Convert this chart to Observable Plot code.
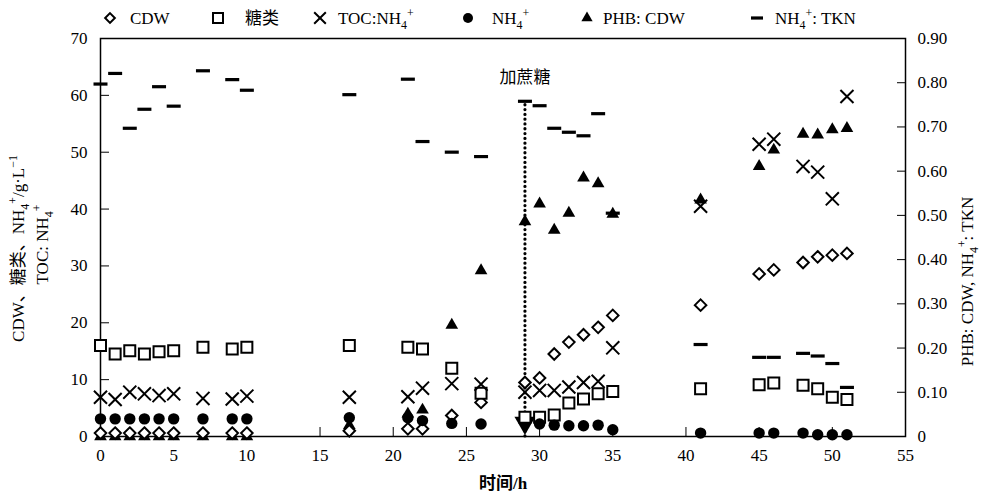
<!DOCTYPE html>
<html><head><meta charset="utf-8">
<script src="https://cdn.jsdelivr.net/npm/d3@7"></script>
<script src="https://cdn.jsdelivr.net/npm/@observablehq/plot@0.6"></script>
<style>
body{margin:0;background:#fff;}
#wrap{position:relative;width:984px;height:501px;font-family:"Liberation Serif","Times New Roman","Noto Sans CJK SC",serif;background:#fff;}
#legend{position:absolute;left:0;top:0;overflow:visible;z-index:2;}
#chart{position:absolute;left:0;top:30px;z-index:1;}
</style></head><body>
<div id="wrap"><svg id="legend" width="984" height="34"></svg><div id="chart"></div></div>
<script>
// ---- data ----
const hours = [0,1,2,3,4,5,7,9,10,17,21,22,24,26,29,30,31,32,33,34,35,41,45,46,48,49,50,51];
const cdw   = [0.6,0.6,0.6,0.6,0.6,0.6,0.6,0.6,0.6,1.0,1.35,1.35,3.7,6.0,9.5,10.3,14.5,16.6,17.9,19.2,21.3,23.1,28.6,29.3,30.6,31.6,31.9,32.2];
const sugar = [16.0,14.5,15.1,14.5,14.9,15.1,15.7,15.4,15.7,16.0,15.7,15.4,12.0,7.6,3.4,3.4,3.8,5.9,6.6,7.5,7.9,8.4,9.1,9.4,9.0,8.4,6.9,6.5];
const tocNh4 = [6.9,6.5,7.8,7.5,7.2,7.5,6.7,6.6,7.1,6.9,7.0,8.5,9.3,9.2,7.8,8.1,8.1,8.7,9.5,9.7,15.6,40.5,51.4,52.3,47.5,46.5,41.8,59.8];
const nh4   = [3.1,3.1,3.1,3.1,3.1,3.1,3.1,3.1,3.1,3.3,3.3,2.8,2.3,2.2,null,2.2,2.0,1.9,1.9,2.0,1.2,0.6,0.6,0.6,0.6,0.3,0.3,0.3];
const phbCdw = [0,0,0,0,0,0,0,0,0,0.025,0.051,0.060,0.252,0.375,0.486,0.526,0.467,0.505,0.585,0.572,0.503,0.535,0.611,0.648,0.684,0.682,0.694,0.697];
const nh4Tkn = [0.797,0.821,0.697,0.740,0.791,0.747,0.827,0.807,0.783,0.773,0.808,0.667,0.643,0.633,0.758,0.748,0.697,0.688,0.680,0.730,0.505,0.208,0.179,0.179,0.188,0.182,0.165,0.111];

const xTicks = [0,5,10,15,20,25,30,35,40,45,50,55];
const leftTicks = [0,10,20,30,40,50,60,70];
const rightTicks = [0,0.1,0.2,0.3,0.4,0.5,0.6,0.7,0.8,0.9];
const rightTickLabels = ["0","0.10","0.20","0.30","0.40","0.50","0.60","0.70","0.80","0.90"];
const leftMax = 70, rightMax = 0.9;

const seriesNames = ["CDW","糖类","TOC:NH_4^+","NH_4^+","PHB: CDW","NH_4^+: TKN"];
const sucrose = [{t: 29, top: 58.9, bottom: 0, arrow: 2.4, labelY: 63.2, label: "加蔗糖"}];
const xTitle = "时间/h";
const leftTitle = ["CDW、糖类、NH_4^+/g·L^−1", "TOC: NH_4^+"];
const rightTitle = "PHB: CDW, NH_4^+: TKN";

// ---- build ----
const k = leftMax / rightMax;
const rows = hours.map((t, i) => ({t, cdw: cdw[i], sugar: sugar[i], toc: tocNh4[i], nh4: nh4[i],
  phb: phbCdw[i] == null ? null : phbCdw[i] * k, tkn: nh4Tkn[i] == null ? null : nh4Tkn[i] * k}));

const dash = {draw(ctx){ ctx.moveTo(-7,-1.6); ctx.lineTo(7,-1.6); ctx.lineTo(7,1.6); ctx.lineTo(-7,1.6); ctx.closePath(); }};

const chart = Plot.plot({
  width: 984, height: 471,
  marginTop: 8, marginBottom: 65, marginLeft: 100, marginRight: 79,
  x: {domain: [0, 55]},
  y: {domain: [0, leftMax]},
  style: {fontFamily: '"Liberation Serif","Times New Roman","Noto Sans CJK SC",serif', fontSize: "17px", color: "#000", background: "#fff", overflow: "visible"},
  marks: [
    Plot.frame({stroke: "#000", strokeWidth: 1.5}),
    Plot.axisX({ticks: xTicks, tickSize: -9, tickPadding: 21, label: null, tickFormat: d => String(d)}),
    Plot.axisY({ticks: leftTicks, tickSize: -9, tickPadding: 22, label: null, tickFormat: d => String(d)}),
    Plot.axisY({anchor: "right", ticks: rightTicks.map(v => v * k), tickSize: -9, tickPadding: 21, label: null,
      tickFormat: (d, i) => rightTickLabels[i]}),
    Plot.ruleX(sucrose, {x: "t", y1: "bottom", y2: "top", stroke: "#000", strokeWidth: 3.2, strokeDasharray: "0.1 4.7", strokeLinecap: "round"}),
    Plot.dot(sucrose, {x: "t", y: "arrow", symbol: "triangle", rotate: 180, r: 7.8, fill: "#000"}),
    Plot.dot(rows, {x: "t", y: "phb", symbol: "triangle", r: 4.7, fill: "#000"}),
    Plot.dot(rows, {x: "t", y: "cdw", symbol: "diamond2", r: 5.2, fill: "#fff", stroke: "#000", strokeWidth: 2}),
    Plot.dot(rows, {x: "t", y: "sugar", symbol: "square2", r: 7, fill: "#fff", stroke: "#000", strokeWidth: 2}),
    Plot.dot(rows, {x: "t", y: "toc", symbol: "times", r: 6, stroke: "#000", strokeWidth: 2}),
    Plot.dot(rows, {x: "t", y: "nh4", symbol: "circle", r: 5.7, fill: "#000"}),
    Plot.dot(rows, {x: "t", y: "tkn", symbol: dash, fill: "#000"}),
    Plot.text(sucrose, {x: "t", y: "labelY", text: "label", fontSize: 17, fontFamily: '"Noto Sans CJK SC",sans-serif'}),
    Plot.text([xTitle], {frameAnchor: "bottom", dy: 52, fontWeight: "bold", fontSize: 17}),
    Plot.text([leftTitle[0]], {frameAnchor: "left", textAnchor: "middle", rotate: -90, dx: -82, dy: 11, fontSize: 17}),
    Plot.text([leftTitle[1]], {frameAnchor: "left", textAnchor: "middle", rotate: -90, dx: -58, dy: 7, fontSize: 17}),
    Plot.text([rightTitle], {frameAnchor: "right", textAnchor: "middle", rotate: -90, dx: 62, dy: 44, fontSize: 17})
  ]
});
document.getElementById("chart").appendChild(chart);

// sub/superscript markup -> tspans
function richText(el, str, fs) {
  el.textContent = "";
  let off = 0, i = 0;
  const parts = [];
  while (i < str.length) {
    const c = str[i];
    if ((c === "_" || c === "^") && i + 1 < str.length) {
      let j = i + 1;
      let s = str[j];
      if (str[j] === "−" && j + 1 < str.length) { s += str[j+1]; j++; }
      parts.push({s, kind: c === "_" ? "sub" : "sup"});
      i = j + 1;
    } else {
      let j = i;
      while (j < str.length && str[j] !== "_" && str[j] !== "^") j++;
      parts.push({s: str.slice(i, j), kind: "n"});
      i = j;
    }
  }
  for (const p of parts) {
    const target = p.kind === "sub" ? 0.28 * fs : p.kind === "sup" ? -0.42 * fs : 0;
    const ts = document.createElementNS("http://www.w3.org/2000/svg", "tspan");
    ts.setAttribute("dy", (target - off).toFixed(2));
    if (p.kind !== "n") ts.setAttribute("font-size", (0.7 * fs).toFixed(1));
    ts.textContent = p.s;
    el.appendChild(ts);
    off = target;
  }
}
d3.select(chart).selectAll("text").each(function() {
  const t = this.textContent;
  if (t.includes("_") || t.includes("^")) richText(this, t, 17);
});

// legend
const lg = d3.select("#legend");
const lx = [110, 218, 320, 468, 587, 757];
const tx = [130, 245, 338, 492, 603, 775];
const cy = 18;
lg.append("path").attr("d", d3.symbol(d3.symbolDiamond2, 60)()).attr("transform", `translate(${lx[0]},${cy})`).attr("fill","#fff").attr("stroke","#000").attr("stroke-width",2);
lg.append("rect").attr("x", lx[1]-5).attr("y", cy-5).attr("width",10).attr("height",10).attr("fill","#fff").attr("stroke","#000").attr("stroke-width",2);
lg.append("path").attr("d", d3.symbol(d3.symbolTimes, 90)()).attr("transform", `translate(${lx[2]},${cy})`).attr("fill","none").attr("stroke","#000").attr("stroke-width",2);
lg.append("circle").attr("cx", lx[3]).attr("cy", cy).attr("r", 5).attr("fill","#000");
lg.append("path").attr("d", d3.symbol(d3.symbolTriangle, 55)()).attr("transform", `translate(${lx[4]},${cy})`).attr("fill","#000");
lg.append("rect").attr("x", lx[5]-6).attr("y", cy-1.6).attr("width",12).attr("height",3.2).attr("fill","#000");
seriesNames.forEach((name, i) => {
  const t = lg.append("text").attr("x", tx[i]).attr("y", 24)
    .attr("font-family", '"Liberation Serif","Times New Roman","Noto Sans CJK SC",serif').attr("font-size", 17).attr("fill", "#000");
  richText(t.node(), name, 17);
});
</script>
</body></html>
